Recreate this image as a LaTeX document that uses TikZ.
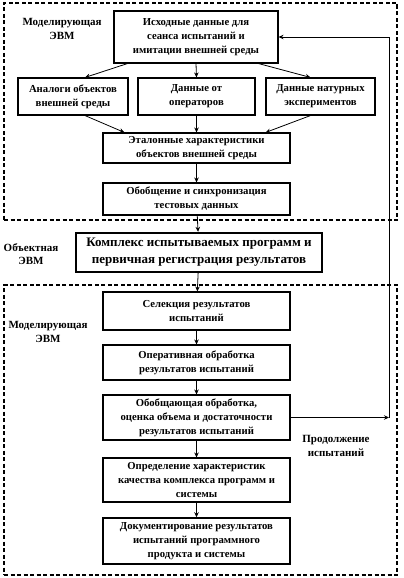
\documentclass[tikz,border=0pt]{standalone}
\usepackage{fontspec}
\setmainfont{Liberation Serif}
\usetikzlibrary{arrows.meta}
\begin{document}
\begin{tikzpicture}[x=1pt,y=-1pt,
  box/.style={draw,line width=1.1pt,align=center,inner sep=1pt,font=\bfseries\fontsize{10.7}{14}\selectfont},
  thickbox/.style={box,line width=2.4pt,font=\bfseries\fontsize{13}{17}\selectfont},
  arr/.style={-{Stealth[length=5pt,width=4.5pt]},line width=0.8pt},
  grp/.style={draw,dash pattern=on 4pt off 2.5pt,line width=1.4pt,inner sep=0pt},
  lbl/.style={align=center,inner sep=0pt,font=\bfseries\fontsize{11}{13.5}\selectfont}]
\useasboundingbox (0,0) rectangle (404,578);
% group frames
\node[grp,minimum width=393,minimum height=217] (g1) at (200.5,111.5) {};
\node[grp,minimum width=393,minimum height=290] (g2) at (200.5,430) {};
% labels
\node[lbl] (l1) at (62,29) {Моделирующая\\ЭВМ};
\node[lbl] (l2) at (31,254) {Объектная\\ЭВМ};
\node[lbl] (l3) at (48,332) {Моделирующая\\ЭВМ};
\node[lbl] (l4) at (336,446) {Продолжение\\испытаний};
% boxes
\node[box,minimum width=164,minimum height=52] (b1) at (196,37) {Исходные данные для\\сеанса испытаний и\\имитации внешней среды};
\node[box,minimum width=110,minimum height=37] (la) at (73,96.5) {Аналоги  объектов\\внешней среды};
\node[box,minimum width=117,minimum height=37] (lb) at (196.5,96.5) {Данные от\\операторов};
\node[box,minimum width=109,minimum height=37] (lc) at (320.5,96.5) {Данные натурных\\экспериментов};
\node[box,minimum width=187,minimum height=30] (et) at (196.5,148) {Эталонные характеристики\\объектов внешней среды};
\node[box,minimum width=187,minimum height=32] (ob) at (196.5,199) {Обобщение и синхронизация\\тестовых данных};
\node[thickbox,minimum width=246,minimum height=39] (km) at (199,252.5) {Комплекс испытываемых программ  и\\первичная регистрация результатов};
\node[box,minimum width=187,minimum height=38] (se) at (196.5,311) {Селекция результатов\\испытаний};
\node[box,minimum width=187,minimum height=35] (op) at (196.5,362.5) {Оперативная обработка\\результатов испытаний};
\node[box,minimum width=187,minimum height=45] (og) at (196.5,417.5) {Обобщающая обработка,\\оценка объема и достаточности\\результатов испытаний};
\node[box,minimum width=187,minimum height=44] (od) at (196.5,480) {Определение характеристик\\качества  комплекса программ и\\системы};
\node[box,line width=1.5pt,minimum width=187,minimum height=46] (dk) at (196.5,541) {Документирование результатов\\испытаний программного\\продукта и системы};
% connectors
\draw[arr] ([xshift=14]b1.south west) -- ([xshift=12]la.north);
\draw[arr] (b1.south) -- (lb.north);
\draw[arr] ([xshift=-20]b1.south east) -- ([xshift=-10]lc.north);
\draw[arr] ([xshift=12]la.south) -- ([xshift=22]et.north west);
\draw[arr] (lb.south) -- (et.north);
\draw[arr] ([xshift=-10]lc.south) -- ([xshift=-25]et.north east);
\draw[arr] (et) -- (ob);
\draw[arr] (ob) -- (km);
\draw[arr] (km) -- (se);
\draw[arr] (se) -- (op);
\draw[arr] (op) -- (og);
\draw[arr] (og) -- (od);
\draw[arr] (od) -- (dk);
\coordinate (c1) at (389,417.5);
\draw[arr] (og.east) -- (c1);
\draw[arr] (c1) |- (b1.east);
\end{tikzpicture}
\end{document}
